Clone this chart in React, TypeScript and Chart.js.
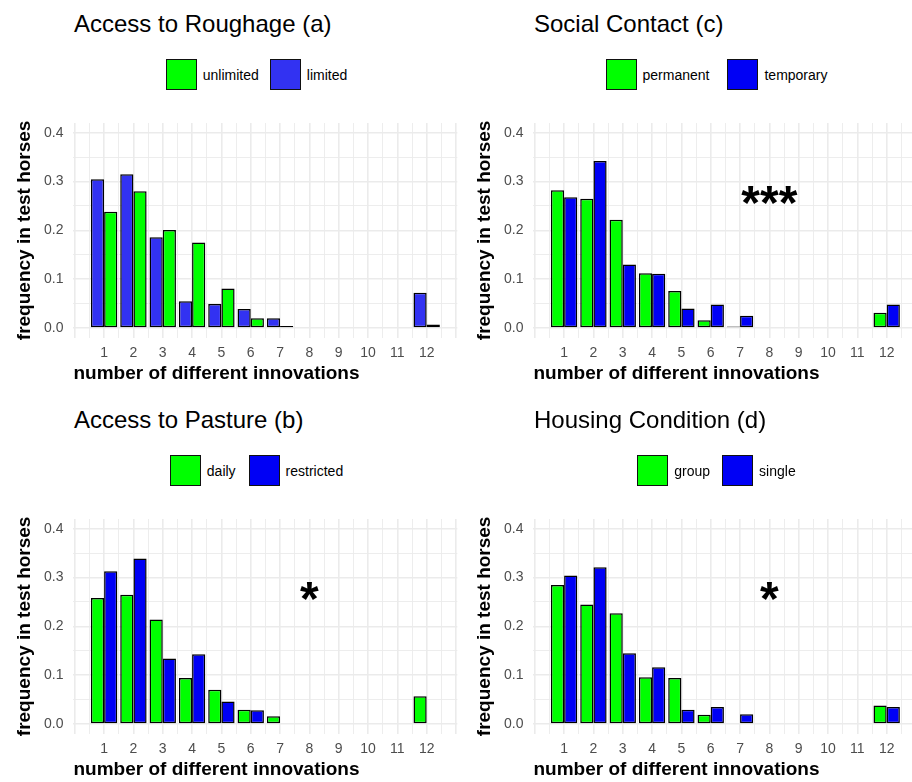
import React, { useEffect, useRef } from 'react';
import { Chart, registerables } from 'chart.js';

Chart.register(...registerables);
Chart.defaults.font.family = '"Liberation Sans", Arial, sans-serif';

// ---------- data ----------
const categories = [1, 2, 3, 4, 5, 6, 7, 8, 9, 10, 11, 12];
const xGridTicks = [0, 0.5, 1, 1.5, 2, 2.5, 3, 3.5, 4, 4.5, 5, 5.5, 6, 6.5, 7, 7.5, 8, 8.5, 9, 9.5, 10, 10.5, 11, 11.5, 12, 12.5, 13];
const yGridTicks = [0, 0.05, 0.1, 0.15, 0.2, 0.25, 0.3, 0.35, 0.4];
const yLabelTicks = [0, 0.1, 0.2, 0.3, 0.4];

// (a) Access to Roughage
const roughageLimited = [0.305, 0.315, 0.186, 0.055, 0.049, 0.039, 0.020, 0, 0, 0, 0, 0.072];
const roughageUnlimited = [0.238, 0.280, 0.201, 0.175, 0.081, 0.020, 0.004, 0, 0, 0, 0, 0.007];
// (b) Access to Pasture
const pastureDaily = [0.258, 0.265, 0.214, 0.094, 0.070, 0.029, 0.016, 0, 0, 0, 0, 0.057];
const pastureRestricted = [0.313, 0.339, 0.134, 0.143, 0.046, 0.028, 0, 0, 0, 0, 0, 0];
// (c) Social Contact
const socialPermanent = [0.282, 0.265, 0.222, 0.112, 0.076, 0.016, 0.003, 0, 0, 0, 0, 0.031];
const socialTemporary = [0.268, 0.342, 0.130, 0.111, 0.040, 0.048, 0.025, 0, 0, 0, 0, 0.048];
// (d) Housing Condition
const housingGroup = [0.285, 0.245, 0.227, 0.096, 0.094, 0.019, 0, 0, 0, 0, 0, 0.038];
const housingSingle = [0.304, 0.321, 0.145, 0.116, 0.029, 0.035, 0.020, 0, 0, 0, 0, 0.035];

// significance marks (data coordinates)
const marksA: { x: number; y: number; text: string }[] = [];
const marksB = [{ x: 8, y: 0.25, text: '*' }];
const marksC = [{ x: 8, y: 0.25, text: '***' }];
const marksD = [{ x: 8, y: 0.25, text: '*' }];

const GREEN = '#00ff00';
const BLUE = '#0000f5';
const LIGHT_BLUE = '#3232f2';

type Series = { label: string; color: string; values: number[] };
type PanelDef = {
  key: string;
  title: string;
  ox: number;
  oy: number;
  series: Series[]; // in bar (dodge) order
  legend: number[]; // indices into series, legend order
  legendGap: number;
  marks: { x: number; y: number; text: string }[];
};

const panels: PanelDef[] = [
  {
    key: 'a',
    title: 'Access to Roughage (a)',
    ox: 0,
    oy: 0,
    series: [
      { label: 'limited', color: LIGHT_BLUE, values: roughageLimited },
      { label: 'unlimited', color: GREEN, values: roughageUnlimited },
    ],
    legend: [1, 0],
    legendGap: 11,
    marks: marksA,
  },
  {
    key: 'c',
    title: 'Social Contact (c)',
    ox: 460,
    oy: 0,
    series: [
      { label: 'permanent', color: GREEN, values: socialPermanent },
      { label: 'temporary', color: BLUE, values: socialTemporary },
    ],
    legend: [0, 1],
    legendGap: 18,
    marks: marksC,
  },
  {
    key: 'b',
    title: 'Access to Pasture (b)',
    ox: 0,
    oy: 396,
    series: [
      { label: 'daily', color: GREEN, values: pastureDaily },
      { label: 'restricted', color: BLUE, values: pastureRestricted },
    ],
    legend: [0, 1],
    legendGap: 13,
    marks: marksB,
  },
  {
    key: 'd',
    title: 'Housing Condition (d)',
    ox: 460,
    oy: 396,
    series: [
      { label: 'group', color: GREEN, values: housingGroup },
      { label: 'single', color: BLUE, values: housingSingle },
    ],
    legend: [0, 1],
    legendGap: 12,
    marks: marksD,
  },
];

const sigMarksPlugin = {
  id: 'sigMarks',
  afterDatasetsDraw(chart: any, _args: any, opts: any) {
    const marks = (opts && opts.marks) || [];
    const { ctx } = chart;
    const xs = chart.scales.x;
    const ys = chart.scales.y;
    ctx.save();
    ctx.font = 'bold 48px "Liberation Sans", Arial, sans-serif';
    ctx.fillStyle = '#000';
    ctx.textAlign = 'center';
    ctx.textBaseline = 'middle';
    marks.forEach((m: any) => {
      ctx.fillText(m.text, xs.getPixelForValue(m.x), ys.getPixelForValue(m.y));
    });
    ctx.restore();
  },
};

const isInt = (v: number) => Math.abs(v - Math.round(v)) < 1e-9;
const isYLabel = (v: number) => yLabelTicks.some((t) => Math.abs(t - v) < 1e-9);

function Panel({ p }: { p: PanelDef }) {
  const ref = useRef<HTMLCanvasElement>(null);

  useEffect(() => {
    if (!ref.current) return;
    const chart = new Chart(ref.current, {
      type: 'bar',
      data: {
        datasets: p.series.map((s) => ({
          label: s.label,
          data: categories.map((c, i) => ({ x: c, y: s.values[i] })),
          backgroundColor: s.color,
          borderColor: '#000000',
          borderWidth: 1.5,
          borderSkipped: false,
          categoryPercentage: 1.8,
          barPercentage: 1,
        })),
      },
      options: {
        responsive: false,
        animation: false,
        events: [],
        layout: { padding: { left: 0, top: 23, right: 0, bottom: 17 } },
        plugins: {
          legend: { display: false },
          tooltip: { enabled: false },
          sigMarks: { marks: p.marks },
        } as any,
        scales: {
          x: {
            type: 'linear',
            min: -0.045,
            max: 13.045,
            offset: false,
            afterBuildTicks: (s: any) => {
              s.ticks = xGridTicks.map((v) => ({ value: v }));
            },
            ticks: {
              autoSkip: false,
              maxRotation: 0,
              minRotation: 0,
              padding: 7,
              color: '#4d4d4d',
              font: { size: 14 },
              callback: (v: any) => (isInt(v) && categories.includes(Math.round(v)) ? String(Math.round(v)) : ''),
            },
            grid: {
              offset: false,
              color: '#ebebeb',
              lineWidth: (ctx: any) => (ctx.tick && isInt(ctx.tick.value) ? 1.6 : 0.9),
              drawTicks: false,
            },
            border: { display: false },
            title: {
              display: true,
              text: 'number of different innovations',
              align: 'start',
              color: '#000',
              font: { size: 19, weight: 'bold', lineHeight: 0.55 },
              padding: { top: 0, bottom: 4 },
            },
          },
          y: {
            type: 'linear',
            min: -0.02,
            max: 0.42,
            afterBuildTicks: (s: any) => {
              s.ticks = yGridTicks.map((v) => ({ value: v }));
            },
            ticks: {
              autoSkip: false,
              padding: 10,
              color: '#4d4d4d',
              font: { size: 14 },
              callback: (v: any) => (isYLabel(v) ? Number(v).toFixed(1) : ''),
            },
            grid: {
              color: '#ebebeb',
              lineWidth: (ctx: any) => (ctx.tick && isYLabel(ctx.tick.value) ? 1.6 : 0.9),
              drawTicks: false,
            },
            border: { display: false },
            title: {
              display: true,
              text: 'frequency in test horses',
              color: '#000',
              font: { size: 19, weight: 'bold', lineHeight: 1 },
              padding: { top: 15, bottom: 0 },
            },
          },
        } as any,
      },
      plugins: [sigMarksPlugin],
    } as any);
    return () => chart.destroy();
  }, [p]);

  return (
    <>
      <div
        style={{
          position: 'absolute',
          left: p.ox + 74,
          top: p.oy + 12,
          fontSize: 24,
          lineHeight: '24px',
          color: '#000',
          whiteSpace: 'nowrap',
        }}
      >
        {p.title}
      </div>
      <div
        style={{
          position: 'absolute',
          left: p.ox,
          top: p.oy + 59,
          width: 513,
          height: 31,
          display: 'flex',
          justifyContent: 'center',
          alignItems: 'center',
        }}
      >
        {p.legend.map((idx, k) => {
          const s = p.series[idx];
          return (
            <div
              key={s.label}
              style={{ display: 'flex', alignItems: 'center', marginRight: k < p.legend.length - 1 ? p.legendGap : 0 }}
            >
              <span
                style={{
                  display: 'inline-block',
                  width: 31,
                  height: 31,
                  boxSizing: 'border-box',
                  border: '1.5px solid #111',
                  background: s.color,
                }}
              />
              <span style={{ marginLeft: 6, fontSize: 14, color: '#000', whiteSpace: 'nowrap' }}>{s.label}</span>
            </div>
          );
        })}
      </div>
      <canvas
        ref={ref}
        width={463}
        height={300}
        style={{ position: 'absolute', left: p.ox, top: p.oy + 100, width: 463, height: 300 }}
      />
    </>
  );
}

export default function App() {
  return (
    <div
      style={{
        position: 'fixed',
        left: 0,
        top: 0,
        width: 912,
        height: 782,
        overflow: 'hidden',
        background: '#ffffff',
        fontFamily: '"Liberation Sans", Arial, sans-serif',
      }}
    >
      {panels.map((p) => (
        <Panel key={p.key} p={p} />
      ))}
    </div>
  );
}
